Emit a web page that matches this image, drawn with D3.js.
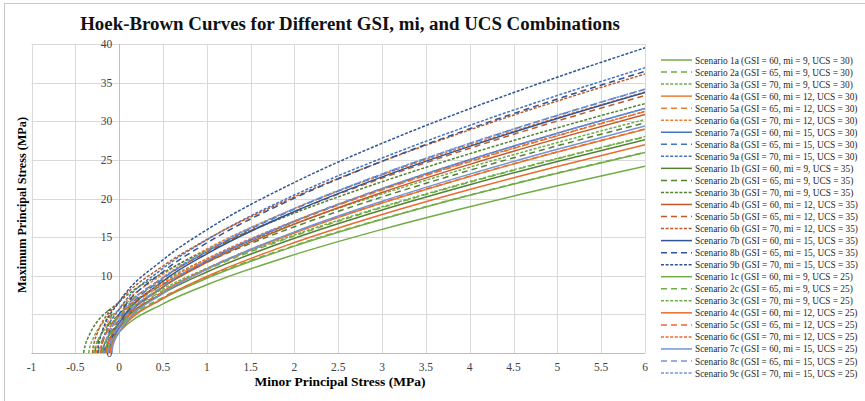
<!DOCTYPE html>
<html>
<head>
<meta charset="utf-8">
<script src="https://cdn.jsdelivr.net/npm/d3@7"></script>
<style>
  body { margin: 0; background: #fff; }
</style>
</head>
<body>
<div id="chart"></div>
<script>
// scenario names, in legend order
const labels = [
  "Scenario 1a (GSI = 60, mi = 9, UCS = 30)",
  "Scenario 2a (GSI = 65, mi = 9, UCS = 30)",
  "Scenario 3a (GSI = 70, mi = 9, UCS = 30)",
  "Scenario 4a (GSI = 60, mi = 12, UCS = 30)",
  "Scenario 5a (GSI = 65, mi = 12, UCS = 30)",
  "Scenario 6a (GSI = 70, mi = 12, UCS = 30)",
  "Scenario 7a (GSI = 60, mi = 15, UCS = 30)",
  "Scenario 8a (GSI = 65, mi = 15, UCS = 30)",
  "Scenario 9a (GSI = 70, mi = 15, UCS = 30)",
  "Scenario 1b (GSI = 60, mi = 9, UCS = 35)",
  "Scenario 2b (GSI = 65, mi = 9, UCS = 35)",
  "Scenario 3b (GSI = 70, mi = 9, UCS = 35)",
  "Scenario 4b (GSI = 60, mi = 12, UCS = 35)",
  "Scenario 5b (GSI = 65, mi = 12, UCS = 35)",
  "Scenario 6b (GSI = 70, mi = 12, UCS = 35)",
  "Scenario 7b (GSI = 60, mi = 15, UCS = 35)",
  "Scenario 8b (GSI = 65, mi = 15, UCS = 35)",
  "Scenario 9b (GSI = 70, mi = 15, UCS = 35)",
  "Scenario 1c (GSI = 60, mi = 9, UCS = 25)",
  "Scenario 2c (GSI = 65, mi = 9, UCS = 25)",
  "Scenario 3c (GSI = 70, mi = 9, UCS = 25)",
  "Scenario 4c (GSI = 60, mi = 12, UCS = 25)",
  "Scenario 5c (GSI = 65, mi = 12, UCS = 25)",
  "Scenario 6c (GSI = 70, mi = 12, UCS = 25)",
  "Scenario 7c (GSI = 60, mi = 15, UCS = 25)",
  "Scenario 8c (GSI = 65, mi = 15, UCS = 25)",
  "Scenario 9c (GSI = 70, mi = 15, UCS = 25)"
];

// [sigma3, sigma1] points, UCS = 30
const ucs30 = [
  [[-0.1634,0],[-0.1584,0.410],[-0.1434,0.994],[-0.1134,1.685],[0,3.251],[0.5,7.052],[1,9.676],[2,13.832],[3,17.307],[4,20.413],[5,23.279],[6,25.970]],
  [[-0.2381,0],[-0.2331,0.389],[-0.2181,1.026],[-0.1881,1.779],[0,4.292],[0.5,8.056],[1,10.787],[2,15.158],[3,18.827],[4,22.106],[5,25.130],[6,27.967]],
  [[-0.3472,0],[-0.3422,0.338],[-0.3272,1.033],[-0.2972,1.853],[0,5.666],[0.5,9.351],[1,12.162],[2,16.733],[3,20.594],[4,24.050],[5,27.237],[6,30.228]],
  [[-0.1225,0],[-0.1175,0.539],[-0.1025,1.211],[-0.0725,2.004],[0,3.251],[0.5,7.829],[1,10.841],[2,15.532],[3,19.413],[4,22.859],[5,26.022],[6,28.983]],
  [[-0.1786,0],[-0.1736,0.545],[-0.1586,1.278],[-0.1286,2.142],[0,4.292],[0.5,8.866],[1,12.026],[2,16.990],[3,21.107],[4,24.760],[5,28.111],[6,31.244]],
  [[-0.2604,0],[-0.2554,0.530],[-0.2404,1.330],[-0.2104,2.273],[0,5.666],[0.5,10.183],[1,13.466],[2,18.695],[3,23.050],[4,26.920],[5,30.468],[6,33.784]],
  [[-0.0980,0],[-0.0930,0.641],[-0.0780,1.391],[-0.0480,2.274],[0,3.251],[0.5,8.531],[1,11.882],[2,17.042],[3,21.278],[4,25.023],[5,28.448],[6,31.644]],
  [[-0.1429,0],[-0.1379,0.665],[-0.1229,1.483],[-0.0929,2.446],[0,4.292],[0.5,9.604],[1,13.139],[2,18.622],[3,23.130],[4,27.111],[5,30.750],[6,34.142]],
  [[-0.2083,0],[-0.2033,0.675],[-0.1883,1.567],[-0.1583,2.618],[0,5.666],[0.5,10.949],[1,14.647],[2,20.449],[3,25.237],[4,29.468],[5,33.333],[6,36.934]]
];

// UCS = 35
const ucs35 = [
  [[-0.1906,0],[-0.1856,0.429],[-0.1706,1.058],[-0.1406,1.802],[0,3.793],[0.5,7.720],[1,10.480],[2,14.860],[3,18.520],[4,21.786],[5,24.795],[6,27.618]],
  [[-0.2778,0],[-0.2728,0.399],[-0.2578,1.086],[-0.2278,1.896],[0,5.007],[0.5,8.878],[1,11.739],[2,16.338],[3,20.199],[4,23.649],[5,26.825],[6,29.803]],
  [[-0.4051,0],[-0.4001,0.334],[-0.3851,1.084],[-0.3551,1.968],[0,6.611],[0.5,10.382],[1,13.312],[2,18.109],[3,22.167],[4,25.801],[5,29.149],[6,32.288]],
  [[-0.1429,0],[-0.1379,0.572],[-0.1229,1.296],[-0.0929,2.151],[0,3.793],[0.5,8.545],[1,11.726],[2,16.687],[3,20.786],[4,24.421],[5,27.752],[6,30.866]],
  [[-0.2084,0],[-0.2034,0.572],[-0.1884,1.363],[-0.1584,2.295],[0,5.007],[0.5,9.733],[1,13.059],[2,18.302],[3,22.649],[4,26.504],[5,30.035],[6,33.333]],
  [[-0.3038,0],[-0.2988,0.549],[-0.2838,1.412],[-0.2538,2.428],[0,6.611],[0.5,11.253],[1,14.695],[2,20.205],[3,24.801],[4,28.882],[5,32.622],[6,36.114]],
  [[-0.1143,0],[-0.1093,0.684],[-0.0943,1.492],[-0.0643,2.444],[0,3.793],[0.5,9.292],[1,12.841],[2,18.310],[3,22.795],[4,26.752],[5,30.367],[6,33.736]],
  [[-0.1667,0],[-0.1617,0.706],[-0.1467,1.588],[-0.1167,2.626],[0,5.007],[0.5,10.514],[1,14.247],[2,20.053],[3,24.825],[4,29.035],[5,32.878],[6,36.456]],
  [[-0.2430,0],[-0.2380,0.710],[-0.2230,1.673],[-0.1930,2.806],[0,6.611],[0.5,12.059],[1,15.951],[2,22.083],[3,27.149],[4,31.622],[5,35.705],[6,39.506]]
];

// UCS = 25
const ucs25 = [
  [[-0.1362,0],[-0.1312,0.388],[-0.1162,0.922],[-0.0862,1.556],[0,2.709],[0.5,6.357],[1,8.827],[2,12.733],[3,16.004],[4,18.934],[5,21.642],[6,24.190]],
  [[-0.1984,0],[-0.1934,0.374],[-0.1784,0.957],[-0.1484,1.647],[0,3.577],[0.5,7.210],[1,9.790],[2,13.905],[3,17.359],[4,20.451],[5,23.306],[6,25.989]],
  [[-0.2893,0],[-0.2843,0.336],[-0.2693,0.972],[-0.2393,1.724],[0,4.722],[0.5,8.299],[1,10.968],[2,15.283],[3,18.921],[4,22.181],[5,25.190],[6,28.016]],
  [[-0.1021,0],[-0.0971,0.503],[-0.0821,1.117],[-0.0521,1.844],[0,2.709],[0.5,7.079],[1,9.901],[2,14.294],[3,17.934],[4,21.173],[5,24.152],[6,26.945]],
  [[-0.1488,0],[-0.1438,0.512],[-0.1288,1.182],[-0.0988,1.974],[0,3.577],[0.5,7.968],[1,10.937],[2,15.590],[3,19.452],[4,22.884],[5,26.037],[6,28.989]],
  [[-0.2170,0],[-0.2120,0.505],[-0.1970,1.237],[-0.1670,2.100],[0,4.722],[0.5,9.083],[1,12.183],[2,17.093],[3,21.181],[4,24.816],[5,28.153],[6,31.275]],
  [[-0.0817,0],[-0.0767,0.594],[-0.0617,1.279],[-0.0317,2.088],[0,2.709],[0.5,7.730],[1,10.860],[2,15.678],[3,19.642],[4,23.153],[5,26.370],[6,29.379]],
  [[-0.1191,0],[-0.1141,0.619],[-0.0991,1.367],[-0.0691,2.249],[0,3.577],[0.5,8.656],[1,11.965],[2,17.089],[3,21.306],[4,25.037],[5,28.452],[6,31.641]],
  [[-0.1736,0],[-0.1686,0.633],[-0.1536,1.449],[-0.1236,2.411],[0,4.722],[0.5,9.802],[1,13.278],[2,18.709],[3,23.190],[4,27.153],[5,30.778],[6,34.159]]
];

const xTicks = [-1, -0.5, 0, 0.5, 1, 1.5, 2, 2.5, 3, 3.5, 4, 4.5, 5, 5.5, 6];
const yTicks = [0, 5, 10, 15, 20, 25, 30, 35, 40];

// styling per series (colour by mi group / UCS set, dash by GSI)
const groupColors = {
  a: ["#70AD47", "#ED7D31", "#4472C4"],
  b: ["#548235", "#C0592A", "#2F5597"],
  c: ["#70AD47", "#EA6B2C", "#7494D6"]
};
const dashes = [null, "6,4", "3,1.6"];
const serif = "'Liberation Serif', 'Times New Roman', Tinos, Times, serif";

const allCurves = ucs30.concat(ucs35, ucs25);
const series = allCurves.map((pts, i) => {
  const set = ["a", "b", "c"][Math.floor(i / 9)];
  const k = i % 9;
  return {
    name: labels[i],
    points: pts,
    color: groupColors[set][Math.floor(k / 3)],
    dash: dashes[k % 3]
  };
});

const width = 865, height = 401;
const plot = { left: 31.5, right: 645, top: 44, bottom: 353 };

const svg = d3.select("#chart").append("svg")
  .attr("width", width)
  .attr("height", height)
  .attr("font-family", serif);

// pick a font size so that a text spans the width seen in the picture
function fitWidth(sel, size, target) {
  sel.attr("font-size", size);
  const w = sel.node().getComputedTextLength();
  return size * target / w;
}

// outer chart border
svg.append("rect")
  .attr("x", 4.5).attr("y", 3.5)
  .attr("width", 900).attr("height", 500)
  .attr("fill", "none")
  .attr("stroke", "#c8c8c8");

const x = d3.scaleLinear().domain([-1, 6]).range([plot.left, plot.right]);
const y = d3.scaleLinear().domain([0, 40]).range([plot.bottom, plot.top]);

// gridlines
svg.append("g").selectAll("line")
  .data(xTicks)
  .join("line")
  .attr("x1", d => Math.round(x(d)) + 0.5).attr("x2", d => Math.round(x(d)) + 0.5)
  .attr("y1", plot.top).attr("y2", plot.bottom)
  .attr("stroke", "#d9d9d9");

svg.append("g").selectAll("line")
  .data(yTicks)
  .join("line")
  .attr("x1", plot.left).attr("x2", plot.right)
  .attr("y1", d => Math.round(y(d)) + 0.5).attr("y2", d => Math.round(y(d)) + 0.5)
  .attr("stroke", "#d9d9d9");

// axis lines through the origin
svg.append("line")
  .attr("x1", plot.left).attr("x2", plot.right)
  .attr("y1", Math.round(y(0)) + 0.5).attr("y2", Math.round(y(0)) + 0.5)
  .attr("stroke", "#bfbfbf");
svg.append("line")
  .attr("x1", Math.round(x(0)) + 0.5).attr("x2", Math.round(x(0)) + 0.5)
  .attr("y1", plot.top).attr("y2", plot.bottom)
  .attr("stroke", "#bfbfbf");

// tick labels
svg.append("g").selectAll("text")
  .data(xTicks)
  .join("text")
  .attr("x", d => x(d))
  .attr("y", 371)
  .attr("text-anchor", "middle")
  .attr("font-size", 11.5)
  .attr("fill", "#404040")
  .text(d => d);

svg.append("g").selectAll("text")
  .data(yTicks)
  .join("text")
  .attr("x", x(0) - 7)
  .attr("y", d => y(d) + 4)
  .attr("text-anchor", "end")
  .attr("font-size", 11.5)
  .attr("fill", "#404040")
  .text(d => d);

// curves
svg.append("clipPath").attr("id", "clip")
  .append("rect")
  .attr("x", plot.left).attr("y", plot.top - 2)
  .attr("width", plot.right - plot.left).attr("height", plot.bottom - plot.top + 2);

const line = d3.line()
  .x(d => x(d[0]))
  .y(d => y(d[1]))
  .curve(d3.curveMonotoneX);

svg.append("g")
  .attr("clip-path", "url(#clip)")
  .selectAll("path")
  .data(series)
  .join("path")
  .attr("d", d => line(d.points))
  .attr("fill", "none")
  .attr("stroke", d => d.color)
  .attr("stroke-width", 1.5)
  .attr("stroke-dasharray", d => d.dash);

// titles
const title = svg.append("text")
  .attr("x", 350).attr("y", 30)
  .attr("text-anchor", "middle")
  .attr("font-weight", "bold")
  .attr("fill", "#111")
  .text("Hoek-Brown Curves for Different GSI, mi, and UCS Combinations");
title.attr("font-size", fitWidth(title, 20, 540));

svg.append("text")
  .attr("x", 340).attr("y", 386)
  .attr("text-anchor", "middle")
  .attr("font-size", 13.5)
  .attr("font-weight", "bold")
  .text("Minor Principal Stress (MPa)");

const yTitle = svg.append("text")
  .attr("transform", "translate(26,205) rotate(-90)")
  .attr("text-anchor", "middle")
  .attr("font-weight", "bold")
  .text("Maximum Principal Stress (MPa)");
yTitle.attr("font-size", fitWidth(yTitle, 13, 176));

// legend
const legend = svg.append("g").selectAll("g")
  .data(series)
  .join("g")
  .attr("transform", (d, i) => `translate(661, ${60 + i * 12.04})`);

legend.append("line")
  .attr("x1", 0).attr("x2", 31)
  .attr("stroke", d => d.color)
  .attr("stroke-width", 1.5)
  .attr("stroke-dasharray", d => d.dash);

const legendText = legend.append("text")
  .attr("x", 34).attr("y", 3.5)
  .attr("fill", "#262626")
  .text(d => d.name);
const legendSize = fitWidth(legendText.filter((d, i) => i === 0), 11, 158);
legendText.attr("font-size", legendSize);
</script>
</body>
</html>
